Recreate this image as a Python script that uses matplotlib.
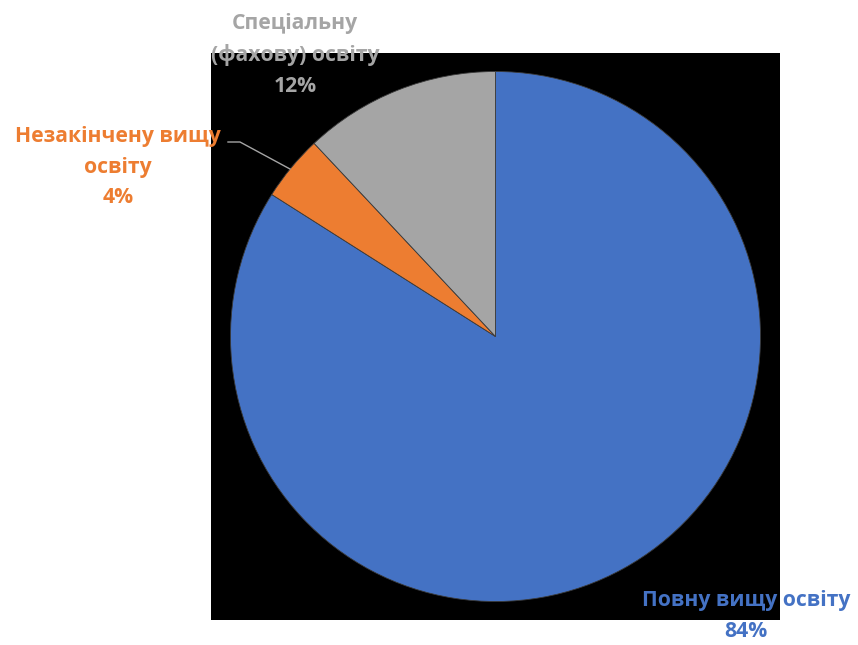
import matplotlib.pyplot as plt

labels = ["Повну вищу освіту", "Незакінчену вищу\nосвіту", "Спеціальну\n(фахову) освіту"]
shares = [84, 4, 12]
colors = ["#4472C4", "#ED7D31", "#A5A5A5"]

plt.rcParams['font.family'] = ['Open Sans', 'DejaVu Sans']

W, H = 858, 645
fig = plt.figure(figsize=(W / 100, H / 100), dpi=100)
fig.patch.set_facecolor("white")

# black plot area, pie radius 265 px inside it
left, top, right, bottom = 211, 53, 780, 620
ax = fig.add_axes([left / W, (H - bottom) / H, (right - left) / W, (bottom - top) / H])
ax.set_facecolor("black")
r = 265

ax.pie(shares, colors=colors, startangle=90, counterclock=False, radius=1,
       wedgeprops=dict(edgecolor="#3a3a3a", linewidth=0.6), frame=True)
ax.set_xlim(-(right - left) / 2 / r, (right - left) / 2 / r)
ax.set_ylim(-(bottom - top) / 2 / r, (bottom - top) / 2 / r)
ax.set_xticks([])
ax.set_yticks([])
for s in ax.spines.values():
    s.set_visible(False)

# data labels: category name and share
label_pos = [(746, 616), (118, 167), (295, 55)]
for lab, val, col, (x, y) in zip(labels, shares, colors, label_pos):
    fig.text(x / W, (H - y) / H, f"{lab}\n{val}%", color=col, fontsize=15.2,
             fontweight="bold", ha="center", va="center", linespacing=1.6)

# leader line for the small slice
fig.add_artist(plt.Line2D([228 / W, 240 / W, 290 / W],
                          [(H - 142) / H, (H - 142) / H, (H - 169) / H],
                          color="#A5A5A5", linewidth=1))

fig.savefig("out.png", dpi=100)
